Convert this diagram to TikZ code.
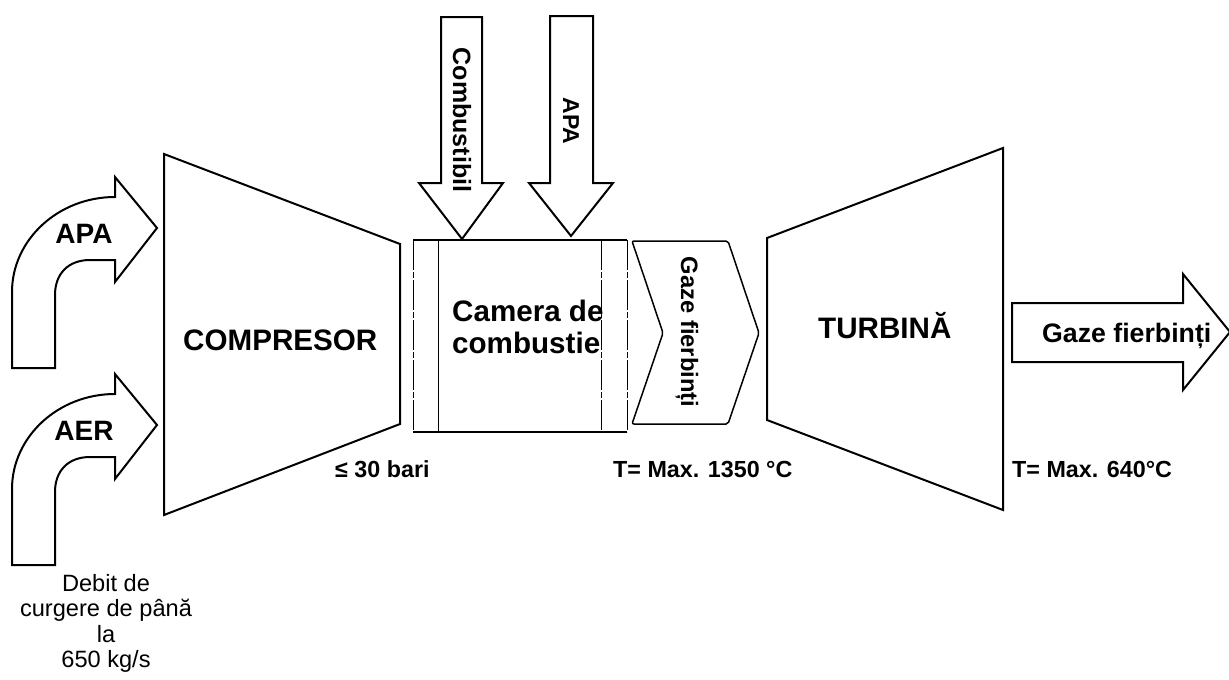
\documentclass[tikz,border=0pt]{standalone}
\usepackage{fontspec}
\setmainfont{Liberation Sans}
\begin{document}
\begin{tikzpicture}[x=1pt,y=-1pt,line join=miter,
  outline/.style={draw=black,line width=2pt},
  thin/.style={draw=black,line width=1.3pt},
  side/.style={draw=black,line width=1pt,dash pattern=on 30pt off 2pt on 6pt off 2pt},
  big/.style={font=\bfseries\fontsize{29.6}{32}\selectfont,inner sep=0pt},
  mid/.style={font=\bfseries\fontsize{28}{30}\selectfont,inner sep=0pt},
  small/.style={font=\bfseries\fontsize{23.3}{26}\selectfont,inner sep=0pt},
  note/.style={font=\fontsize{23.6}{25.5}\selectfont,inner sep=0pt,align=center}]
\useasboundingbox (0,0) rectangle (1229,680);
\fill[white] (0,0) rectangle (1229,680);

% inlet bent arrows
\foreach \dy/\nm/\txt in {0/apain/APA,197/aerin/AER}{
  \begin{scope}[yshift=-\dy pt]
    \draw[outline] (12,368) -- (12,292) .. controls (12,240) and (58,197) .. (115,197)
      -- (115,177) -- (157,228) -- (115,282) -- (115,260) -- (90,260)
      .. controls (68,260) and (55,274) .. (55,295) -- (55,368) -- cycle;
    \node[mid,anchor=base] (\nm) at (84,243) {\txt};
  \end{scope}
}

% compressor
\draw[outline] (164,154) -- (400,244) -- (400,424) -- (164,515) -- cycle;
\node[big,anchor=base west] (comp) at (183,350) {COMPRESOR};
\node[small,anchor=base west] (bari) at (335,477) {≤ 30 bari};

% combustion chamber
\node[big,anchor=base west] (cam1) at (452,321) {Camera de};
\node[big,anchor=base west] (cam2) at (452,353) {combustie};
\draw[thin] (413,240) -- (627,240);
\draw[thin] (413,432) -- (627,432);
\draw[side] (413,240) -- (413,432);
\draw[side] (627,240) -- (627,432);
\draw[thin,line width=1pt] (438,240) -- (438,432);
\draw[side] (601,240) -- (601,432);

% fuel and water arrows
\draw[outline,fill=white] (441,17) -- (482,17) -- (482,183) -- (503,183) -- (462,239)
  -- (419,183) -- (441,183) -- cycle;
\node[font=\bfseries\fontsize{25}{28}\selectfont,inner sep=0pt,rotate=-90] (comb) at (462,120) {Combustibil};
\draw[outline,fill=white] (550,16) -- (593,16) -- (593,183) -- (613,183) -- (571,236)
  -- (529,183) -- (550,183) -- cycle;
\node[font=\bfseries\fontsize{23}{26}\selectfont,inner sep=0pt,rotate=-90] (apav) at (571,121) {APA};

% hot gases chevron
\draw[draw=black,line width=1.5pt,rounded corners=2pt] (632,241) -- (728,241) -- (759,333) -- (728,424)
  -- (632,424) -- (663,333) -- cycle;
\node[font=\bfseries\fontsize{23.7}{26}\selectfont,inner sep=0pt,rotate=-90] (gazev) at (687,332) {Gaze fierbinți};
\node[small,anchor=base west] (t1) at (613,477) {T= Max. 1350 °C};

% turbine
\draw[outline] (767,238) -- (1003,148) -- (1003,510) -- (767,420) -- cycle;
\node[big,anchor=base west] (turb) at (818,338) {TURBINĂ};
\node[small,anchor=base west] (t2) at (1012,477) {T= Max. 640°C};

% exhaust arrow
\draw[outline] (1012,303) -- (1183,303) -- (1183,274) -- (1230,332) -- (1183,390)
  -- (1183,362) -- (1012,362) -- cycle;
\node[font=\bfseries\fontsize{26.7}{30}\selectfont,inner sep=0pt,anchor=base west] (gazeh) at (1042,342) {Gaze fierbinți};

% note
\node[note,anchor=north] (debit) at (106,574) {Debit de\\curgere de până\\la\\650 kg/s};
\end{tikzpicture}
\end{document}
